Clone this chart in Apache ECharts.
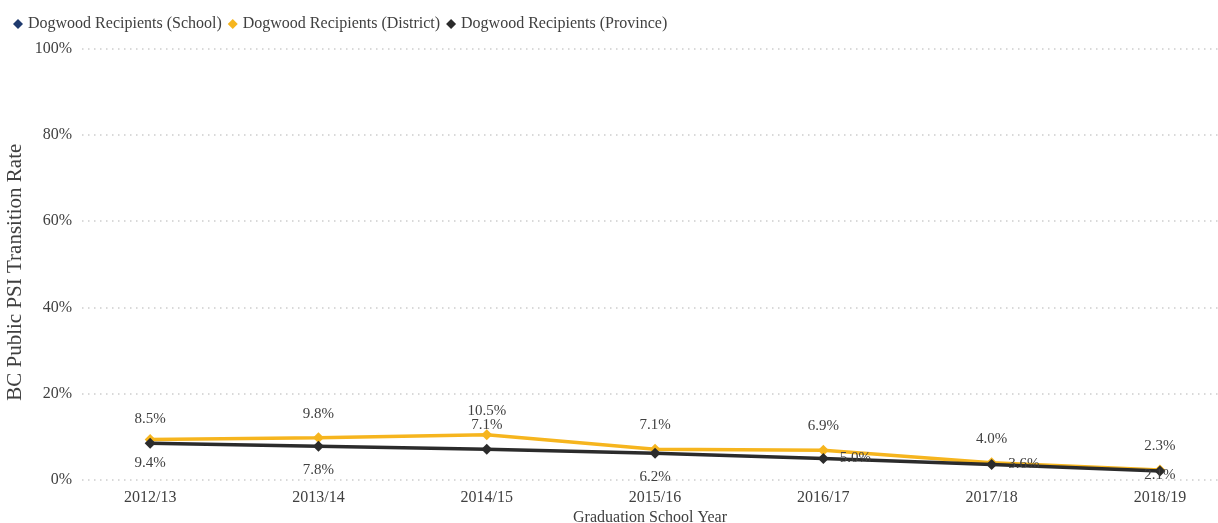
<!DOCTYPE html>
<html>
<head>
<meta charset="utf-8">
<title>BC Public PSI Transition Rate</title>
<script src="https://cdn.jsdelivr.net/npm/echarts@6/dist/echarts.min.js"></script>
<style>
  html, body { margin: 0; padding: 0; background: #ffffff; }
  #chart { width: 1218px; height: 523px; }
</style>
</head>
<body>
<div id="chart"></div>
<script>
// Graduation years on the horizontal axis
const years = ['2012/13', '2013/14', '2014/15', '2015/16', '2016/17', '2017/18', '2018/19'];

// Transition rates (%) for each group of Dogwood recipients
const schoolRates = [];
const districtRates = [9.4, 9.8, 10.5, 7.1, 6.9, 4.0, 2.3];
const provinceRates = [8.5, 7.8, 7.1, 6.2, 5.0, 3.6, 2.1];

// Percentage ticks on the vertical axis
const yTicks = [0, 20, 40, 60, 80, 100];

// Where each data label sits relative to its point
const districtLabelSide = ['bottom', 'top', 'top', 'top', 'top', 'top', 'top'];
const provinceLabelSide = ['top', 'bottom', 'top', 'bottom', 'right', 'right', 'inside'];

const textColor = '#404040';
const serif = '"Liberation Serif", "Times New Roman", serif';

function labelFor(side) {
  const cfg = { show: true, position: side, distance: 11 };
  if (side === 'inside') cfg.offset = [0, 4];
  return cfg;
}

const chart = echarts.init(document.getElementById('chart'), null, { renderer: 'canvas' });

const option = {
  animation: false,
  backgroundColor: '#ffffff',
  textStyle: { fontFamily: serif, color: textColor },
  legend: {
    left: 8,
    top: 11,
    itemWidth: 10,
    itemHeight: 10,
    itemGap: 6,
    textStyle: { fontFamily: serif, fontSize: 16, color: textColor },
    data: [
      { name: 'Dogwood Recipients (School)', icon: 'diamond' },
      { name: 'Dogwood Recipients (District)', icon: 'diamond' },
      { name: 'Dogwood Recipients (Province)', icon: 'diamond' }
    ]
  },
  grid: {
    left: 82, right: 0, top: 48.5, bottom: 43,
    containLabel: false,
    outerBoundsMode: 'none'
  },
  xAxis: {
    type: 'value',
    min: -0.405,
    max: 6.345,
    name: 'Graduation School Year',
    nameLocation: 'middle',
    nameGap: 30,
    nameMoveOverlap: false,
    nameTextStyle: { fontFamily: serif, fontSize: 16, color: textColor },
    axisLine: { show: false },
    axisTick: { show: false },
    splitLine: { show: false },
    axisLabel: {
      customValues: years.map((_, i) => i),
      formatter: v => years[Math.round(v)] || '',
      fontFamily: serif,
      fontSize: 16,
      color: textColor,
      margin: 10
    }
  },
  yAxis: {
    type: 'value',
    min: yTicks[0],
    max: yTicks[yTicks.length - 1],
    interval: yTicks[1] - yTicks[0],
    name: 'BC Public PSI Transition Rate',
    nameLocation: 'middle',
    nameGap: 56,
    nameMoveOverlap: false,
    nameRotate: 90,
    nameTextStyle: { fontFamily: serif, fontSize: 21, color: textColor, padding: [0, 16, 0, 0] },
    axisLine: { show: false },
    axisTick: { show: false },
    axisLabel: {
      formatter: '{value}%',
      fontFamily: serif,
      fontSize: 16,
      color: textColor,
      margin: 10
    },
    splitLine: {
      show: true,
      lineStyle: { color: '#cdcdcd', width: 1.5, type: [1.5, 4.5] }
    }
  },
  series: [
    {
      name: 'Dogwood Recipients (School)',
      type: 'line',
      symbol: 'diamond',
      symbolSize: 10,
      itemStyle: { color: '#1f3a6e' },
      lineStyle: { color: '#1f3a6e', width: 3 },
      data: schoolRates.map((v, i) => [i, v])
    },
    {
      name: 'Dogwood Recipients (District)',
      type: 'line',
      symbol: 'diamond',
      symbolSize: 11,
      z: 2,
      itemStyle: { color: '#f6b51e' },
      lineStyle: { color: '#f6b51e', width: 3.5 },
      label: {
        fontFamily: serif,
        fontSize: 15,
        color: textColor,
        formatter: p => p.value[1].toFixed(1) + '%'
      },
      data: districtRates.map((v, i) => ({ value: [i, v], label: labelFor(districtLabelSide[i]) }))
    },
    {
      name: 'Dogwood Recipients (Province)',
      type: 'line',
      symbol: 'diamond',
      symbolSize: 11,
      z: 3,
      itemStyle: { color: '#2b2b2b' },
      lineStyle: { color: '#2b2b2b', width: 3.5 },
      label: {
        fontFamily: serif,
        fontSize: 15,
        color: textColor,
        formatter: p => p.value[1].toFixed(1) + '%'
      },
      data: provinceRates.map((v, i) => ({ value: [i, v], label: labelFor(provinceLabelSide[i]) }))
    }
  ]
};

chart.setOption(option);
</script>
</body>
</html>
